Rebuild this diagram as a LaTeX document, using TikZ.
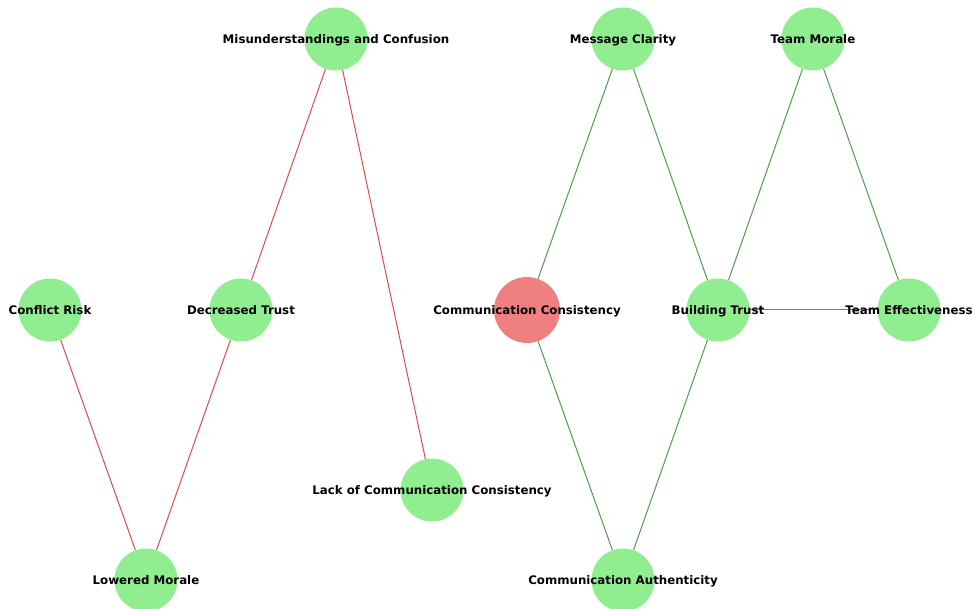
\documentclass[tikz,border=0pt]{standalone}
\usepackage{fontspec}
\setmainfont{DejaVu Sans}
\usetikzlibrary{backgrounds}
\definecolor{nodegreen}{HTML}{90EE90}
\definecolor{nodered}{HTML}{F08080}
\definecolor{edgered}{HTML}{DC4A4E}
\definecolor{edgegreen}{HTML}{4A9E4A}
\begin{document}
\begin{tikzpicture}[x=1pt,y=-1pt,
  vert/.style={circle,fill=nodegreen,minimum size=63pt,inner sep=0pt},
  hub/.style={circle,fill=nodered,minimum size=66pt,inner sep=0pt},
  lbl/.style={font=\fontsize{11.8}{14}\selectfont\bfseries,text=black,inner sep=0pt,text height=8.6pt,text depth=0pt},
  negedge/.style={draw=edgered,line width=1pt},
  posedge/.style={draw=edgegreen,line width=1pt}]
\useasboundingbox (0,0) rectangle (974,609);
\node[vert,label={[lbl]center:Misunderstandings and Confusion}] (mis) at (336,39) {};
\node[vert,label={[lbl]center:Message Clarity}] (mc) at (623,39) {};
\node[vert,label={[lbl]center:Team Morale}] (tm) at (813,39) {};
\node[vert,label={[lbl]center:Conflict Risk}] (cr) at (50,310) {};
\node[vert,label={[lbl]center:Decreased Trust}] (dt) at (241,310) {};
\node[hub,label={[lbl]center:Communication Consistency}] (cc) at (527,310) {};
\node[vert,label={[lbl]center:Building Trust}] (bt) at (718,310) {};
\node[vert,label={[lbl]center:Team Effectiveness}] (te) at (909,310) {};
\node[vert,label={[lbl]center:Lack of Communication Consistency}] (lcc) at (432,490) {};
\node[vert,label={[lbl]center:Lowered Morale}] (lm) at (146,580) {};
\node[vert,label={[lbl]center:Communication Authenticity}] (ca) at (623,580) {};
\begin{pgfonlayer}{background}
\draw[negedge] (mis) -- (dt);
\draw[negedge] (mis) -- (lcc);
\draw[negedge] (cr) -- (lm);
\draw[negedge] (dt) -- (lm);
\draw[posedge] (mc) -- (cc);
\draw[posedge] (mc) -- (bt);
\draw[posedge] (tm) -- (bt);
\draw[posedge] (tm) -- (te);
\draw[posedge] (bt) -- (te);
\draw[posedge] (cc) -- (ca);
\draw[posedge] (bt) -- (ca);
\end{pgfonlayer}
\end{tikzpicture}
\end{document}
